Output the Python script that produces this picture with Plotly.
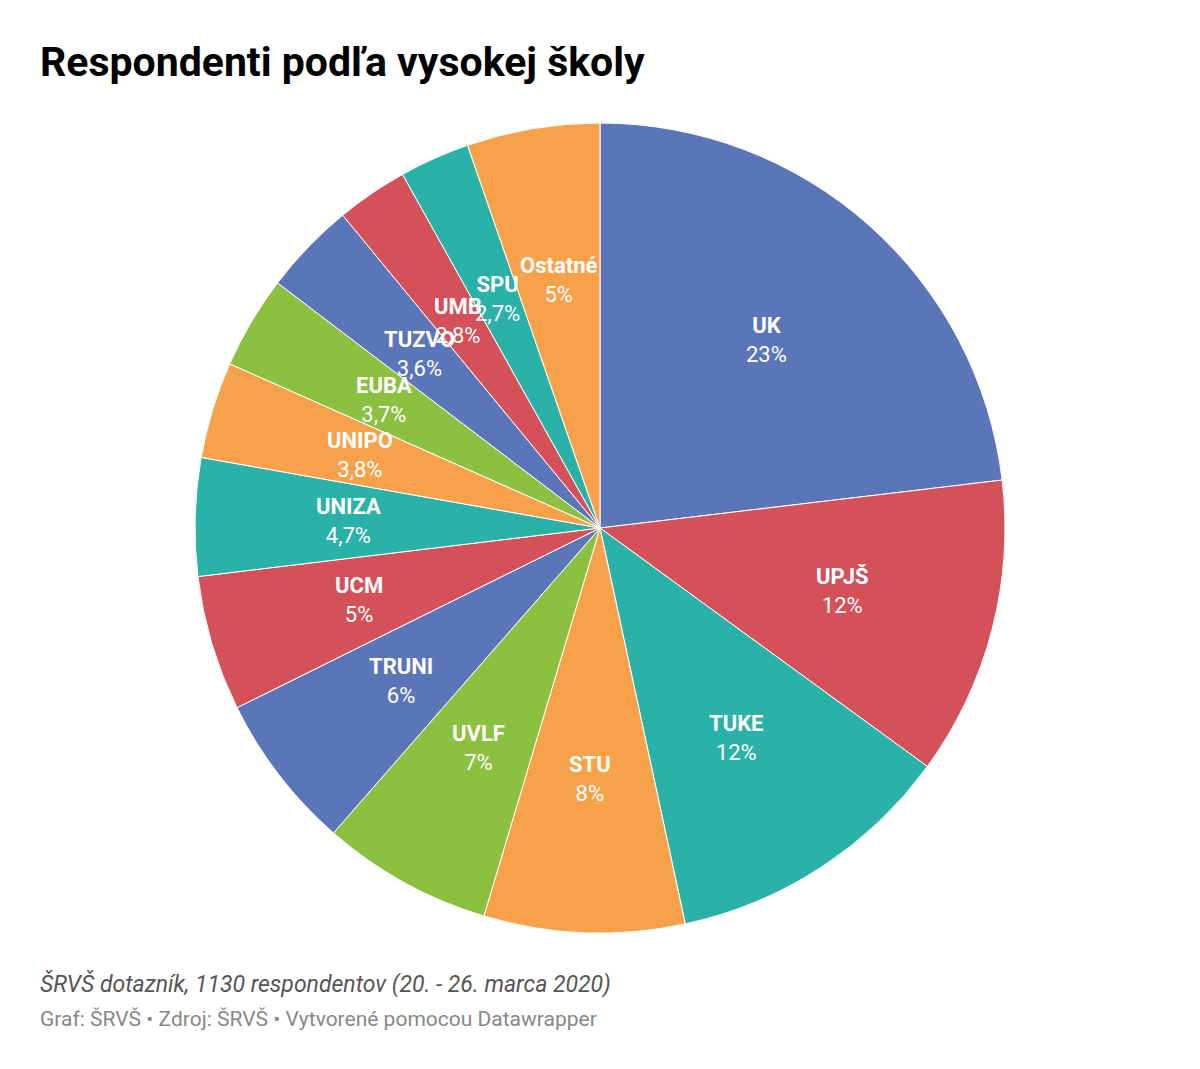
import math
import plotly.graph_objects as go

schools = ["UK", "UPJŠ", "TUKE", "STU", "UVLF", "TRUNI", "UCM", "UNIZA",
           "UNIPO", "EUBA", "TUZVO", "UMB", "SPU", "Ostatné"]
shares = [23.1, 11.9, 11.6, 8.0, 6.8, 6.25, 5.4, 4.7, 3.85, 3.7, 3.7, 2.85, 2.8, 5.3]
share_labels = ["23%", "12%", "12%", "8%", "7%", "6%", "5%", "4,7%",
                "3,8%", "3,7%", "3,6%", "2,8%", "2,7%", "5%"]
palette = ["#5b76b8", "#d5515a", "#2ab1a8", "#f7a24a", "#8cc040"]
colors = [palette[i % 5] for i in range(len(schools))]

W, H = 1200, 1069
OFF = 8  # page body margin
CX, CY, R = 600 - OFF, 528 - OFF, 405  # pixel centre / radius of the pie

fig = go.Figure(go.Pie(
    labels=schools,
    values=shares,
    sort=False,
    direction="clockwise",
    rotation=0,
    marker=dict(colors=colors, line=dict(color="white", width=1)),
    textinfo="none",
    hoverinfo="label+percent",
    showlegend=False,
    domain=dict(x=[(CX - R) / W, (CX + R) / W],
                y=[(H - CY - R) / H, (H - CY + R) / H]),
))

total = sum(shares)
cum = 0.0
annotations = []
for name, v, lab in zip(schools, shares, share_labels):
    mid = (cum + v / 2) / total * 2 * math.pi
    cum += v
    rr = 0.62 * R
    px = CX + rr * math.sin(mid)
    py = CY - rr * math.cos(mid)
    annotations.append(dict(
        x=px / W, y=1 - py / H, xref="paper", yref="paper",
        text=f"<b>{name}</b><br>{lab}", showarrow=False,
        font=dict(family="Roboto", size=22, color="white"),
        xanchor="center", yanchor="middle", align="center",
    ))

annotations += [
    dict(x=(38 - OFF) / W, y=1 - (62 - OFF) / H, xref="paper", yref="paper",
         xanchor="left", yanchor="middle",
         text="<b>Respondenti podľa vysokej školy</b>", showarrow=False,
         font=dict(family="Roboto", size=41, color="#000000")),
    dict(x=(38 - OFF) / W, y=1 - (984 - OFF) / H, xref="paper", yref="paper",
         xanchor="left", yanchor="middle",
         text="<i>ŠRVŠ dotazník, 1130 respondentov (20. - 26. marca 2020)</i>", showarrow=False,
         font=dict(family="Roboto", size=23, color="#555555")),
    dict(x=(38 - OFF) / W, y=1 - (1019 - OFF) / H, xref="paper", yref="paper",
         xanchor="left", yanchor="middle",
         text="Graf: ŠRVŠ • Zdroj: ŠRVŠ • Vytvorené pomocou Datawrapper", showarrow=False,
         font=dict(family="Roboto", size=21, color="#888888")),
]

fig.update_layout(
    width=W, height=H,
    margin=dict(l=0, r=0, t=0, b=0),
    paper_bgcolor="white", plot_bgcolor="white",
    annotations=annotations,
)

fig.write_html("out.html")
